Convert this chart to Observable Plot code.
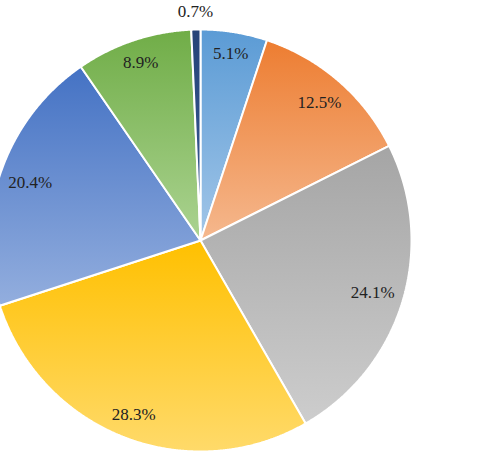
<!DOCTYPE html>
<html>
<head>
<meta charset="utf-8">
<script src="https://cdn.jsdelivr.net/npm/d3@7"></script>
<script src="https://cdn.jsdelivr.net/npm/@observablehq/plot@0.6"></script>
<style>
  html, body { margin: 0; padding: 0; background: #fff; overflow: hidden; }
</style>
</head>
<body>
<div id="chart"></div>
<script>
const labels = ["5.1%", "12.5%", "24.1%", "28.3%", "20.4%", "8.9%", "0.7%"];
const values = [5.1, 12.5, 24.1, 28.3, 20.4, 8.9, 0.7];
const topColors = ["#5B9BD5", "#ED7D31", "#A5A5A5", "#FFC000", "#4472C4", "#70AD47", "#264478"];
const bottomColors = ["#A2C6E8", "#F5B88E", "#CDCDCD", "#FFDA6A", "#93AEDE", "#ABD391", "#3A5C99"];

const W = 481, H = 456;
const cx = 200, cy = 240, R = 211;

const pie = d3.pie().sort(null).value(d => d)(values);

const slicePts = [];
pie.forEach((a, i) => {
  const steps = Math.max(2, Math.ceil((a.endAngle - a.startAngle) / 0.005));
  slicePts.push({key: i, x: 0, y: 0});
  for (let k = 0; k <= steps; k++) {
    const t = a.startAngle + (a.endAngle - a.startAngle) * k / steps;
    slicePts.push({key: i, x: Math.sin(t), y: Math.cos(t)});
  }
  slicePts.push({key: i, x: 0, y: 0});
});

// "inside end" style placement: label box kept a fixed gap inside the rim
const labelData = pie.map((a, i) => {
  const m = (a.startAngle + a.endAngle) / 2;
  let rPx;
  if (values[i] < 2) {
    rPx = R * 1.085;
  } else {
    const hw = labels[i].length * 3.6, hh = 7;
    rPx = R - 12 - (Math.abs(Math.sin(m)) * hw + Math.abs(Math.cos(m)) * hh);
  }
  const r = rPx / R;
  return {label: labels[i], x: Math.sin(m) * r, y: Math.cos(m) * r};
});

const defs = () => {
  const g = d3.create("svg:defs");
  topColors.forEach((c, i) => {
    const lg = g.append("linearGradient").attr("id", "g" + i)
      .attr("x1", 0).attr("y1", 0).attr("x2", 0).attr("y2", 1);
    lg.append("stop").attr("offset", "0%").attr("stop-color", c);
    lg.append("stop").attr("offset", "100%").attr("stop-color", bottomColors[i]);
  });
  return g.node();
};

const marks = [defs];
pie.forEach((a, i) => {
  marks.push(Plot.line(slicePts.filter(d => d.key === i), {
    x: "x", y: "y", fill: `url(#g${i})`, stroke: "white", strokeWidth: 2, strokeLinejoin: "miter"
  }));
});
marks.push(Plot.text(labelData, {
  x: "x", y: "y", text: "label", fontFamily: "Liberation Serif", fontSize: 17, fill: "#222"
}));

const chart = Plot.plot({
  width: W, height: H,
  margin: 0,
  x: {domain: [-cx / R, (W - cx) / R], axis: null},
  y: {domain: [-(H - cy) / R, cy / R], axis: null},
  marks
});
document.getElementById("chart").appendChild(chart);
</script>
</body>
</html>
